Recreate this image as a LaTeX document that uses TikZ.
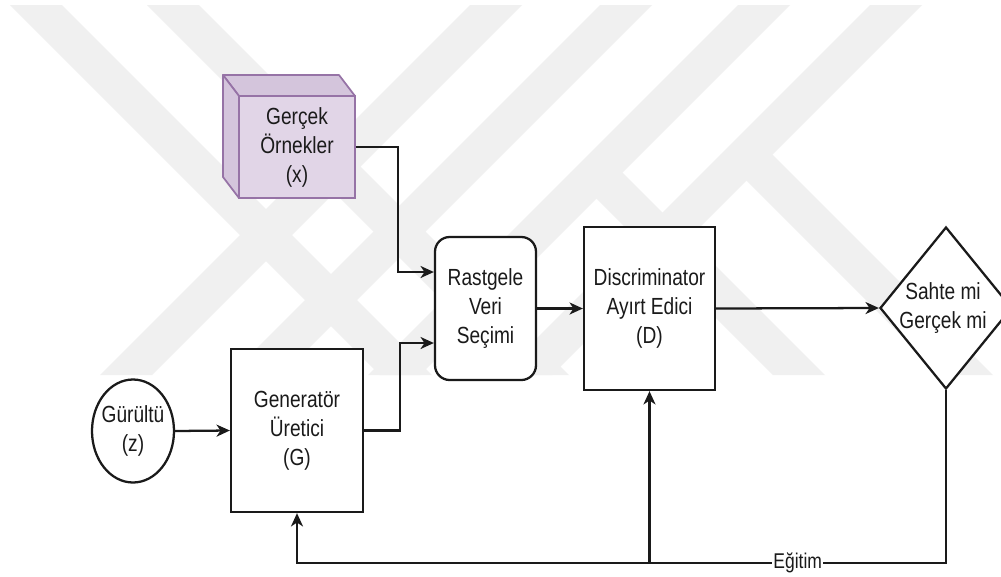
\documentclass[tikz,border=0pt]{standalone}
\usepackage{fontspec}
\setmainfont{Liberation Sans}[FakeStretch=0.82]
\usetikzlibrary{shapes.geometric,arrows.meta,calc}
\definecolor{wm}{HTML}{F0F0F0}
\definecolor{cubefill}{HTML}{E1D5E7}
\definecolor{cubeside}{HTML}{D4C5DC}
\definecolor{cubeline}{HTML}{9673A6}
\definecolor{ink}{HTML}{1A1A1A}
\newcommand\pxu{0.75pt}

\begin{document}
\begin{tikzpicture}[x=0.75pt,y=-0.75pt,
  txt/.style={font=\fontsize{17.5}{21.75}\selectfont, text=ink, align=center},
  blockbox/.style={draw=ink, line width=1.7pt, fill=white, inner sep=0pt, txt},
  link/.style={draw=ink, line width=1.7pt},
  arr/.style={link, -{Stealth[length=10pt,width=9pt,inset=3pt]}},
  edgelbl/.style={fill=white, font=\fontsize{16}{19}\selectfont, text=ink, inner sep=1pt}
]
\useasboundingbox (0,0) rectangle (1001,576);
\clip (0,0) rectangle (1001,576);
\fill[white] (0,0) rectangle (1001,576);

% faint emblem in the background
\begin{scope}[wm]
  \fill (10,5) -- (62,5) -- (432,375) -- (380,375) -- cycle;
  \fill (147,5) -- (199,5) -- (569,375) -- (517,375) -- cycle;
  \fill (470,5) -- (522,5) -- (152,375) -- (100,375) -- cycle;
  \fill (600,5) -- (652,5) -- (282,375) -- (230,375) -- cycle;
  \fill (738,5) -- (790,5) -- (420,375) -- (368,375) -- cycle;
  \fill (870,5) -- (922,5) -- (552,375) -- (500,375) -- cycle;
  \fill (720.5,154.5) -- (772.5,154.5) -- (993,375) -- (941,375) -- cycle;
  \fill (570.5,172.5) -- (622.5,172.5) -- (825,375) -- (773,375) -- cycle;
\end{scope}

% real samples: a cube
\filldraw[fill=cubeside, draw=cubeline, line width=1.3pt, line join=round]
  (223,75) -- (339,75) -- (355,96) -- (239,96) -- cycle;
\filldraw[fill=cubeside, draw=cubeline, line width=1.3pt, line join=round]
  (223,75) -- (239,96) -- (239,198) -- (223,177) -- cycle;
\node[rectangle, draw=cubeline, fill=cubefill, line width=1.3pt, inner sep=0pt,
      minimum width=116*\pxu, minimum height=102*\pxu, txt] (real) at (297,147)
      {Gerçek\\Örnekler\\(x)};

% blocks
\node[blockbox, rounded corners=11pt, minimum width=101*\pxu, minimum height=143*\pxu]
  (rast) at (485.5,308.5) {Rastgele\\Veri\\Seçimi};
\node[blockbox, minimum width=131*\pxu, minimum height=163*\pxu]
  (disc) at (649.5,308.5) {Discriminator\\Ayırt Edici\\(D)};
\node[blockbox, minimum width=132*\pxu, minimum height=163*\pxu]
  (gen) at (297,430.5) {Generatör\\Üretici\\(G)};
\node[draw=ink, line width=1.7pt, fill=white, ellipse, inner sep=0pt,
      minimum width=82*\pxu, minimum height=103*\pxu] (noise) at (133,431) {};
\node[txt] (noisetxt) at (noise.center) {Gürültü\\(z)};
\node[draw=ink, line width=1.7pt, fill=white, diamond, inner sep=0pt,
      minimum width=132*\pxu, minimum height=162*\pxu] (dec) at (946,308) {};
\node[txt] (dectxt) at ([xshift=-3*\pxu]dec.center) {Sahte mi\\Gerçek mi};

% connectors
\draw[arr] (real.east) -- ++(42,0) |- ([yshift=36.5*\pxu]rast.west);
\draw[arr] (gen.east) -- ++(36,0) |- ([yshift=-34.5*\pxu]rast.west);
\draw[arr] (rast.east) -- (disc.west);
\draw[arr] (disc.east) -- (dec.west);
\draw[arr] (noise.east) -- (gen.west);
\draw[arr] (dec.south) -- ++(0,173) coordinate (fb) -| (gen.south);
\draw[arr] (disc.south |- fb) -- (disc.south);
\path (fb) -- (disc.south |- fb) node[edgelbl, pos=0.5] (train) {Eğitim};
\end{tikzpicture}
\end{document}
